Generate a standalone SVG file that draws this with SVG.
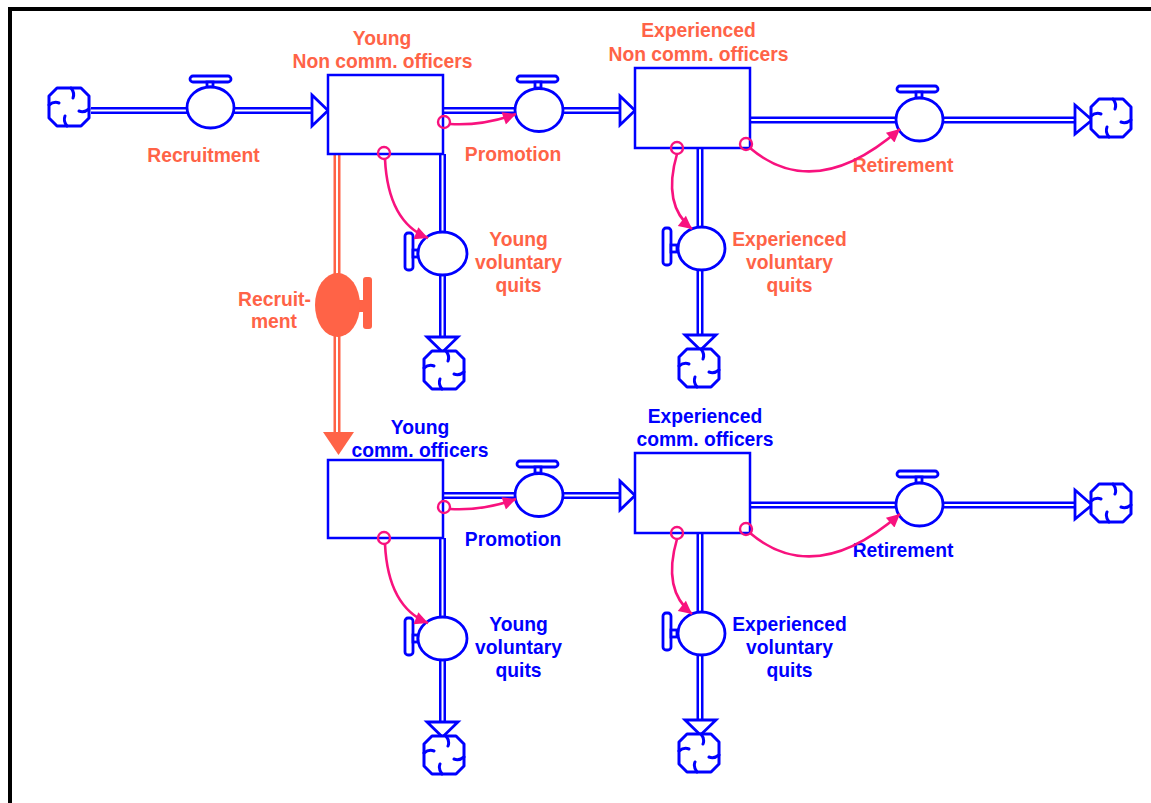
<svg xmlns="http://www.w3.org/2000/svg" width="1151" height="803" viewBox="0 0 1151 803">
<style>
.lbl{font-family:"Liberation Sans",Arial,sans-serif;font-weight:bold;font-size:19.3px;text-anchor:middle}
.or{fill:#FF6347}
.bl{fill:#0000FF}
.pipeO{fill:none;stroke:#0000FF;stroke-width:7}
.pipeI{fill:none;stroke:#FFFFFF;stroke-width:2}
.opipeO{fill:none;stroke:#FF6347;stroke-width:7}
.stock{fill:#FFFFFF;stroke:#0000FF;stroke-width:2.5}
.valve{fill:#FFFFFF;stroke:#0000FF;stroke-width:2.8}
.head{fill:#FFFFFF;stroke:#0000FF;stroke-width:2.8;stroke-linejoin:miter}
.link{fill:none;stroke:#F8127E;stroke-width:2.6}
.dot{fill:none;stroke:#F8127E;stroke-width:2.4}
</style>
<defs>
<marker id="ah" viewBox="0 0 10 10" refX="10" refY="5" markerWidth="21" markerHeight="13" markerUnits="userSpaceOnUse" orient="auto">
<path d="M0,0 L10,5 L0,10 Z" fill="#F8127E"/>
</marker>
<g id="cloud">
<path d="M-12,-19 H12 L20,-11 V11 L12,19 H-12 L-20,11 V-11 Z" fill="#FFFFFF" stroke="#0000FF" stroke-width="3" stroke-linejoin="round"/>
<path d="M-20,-2 Q-15,-6 -10,-4 M2,-19 Q6,-14 4,-9 M20,2 Q15,6 10,4 M-2,19 Q-6,14 -4,9" fill="none" stroke="#0000FF" stroke-width="3" stroke-linecap="round"/>
</g>
</defs>
<rect width="1151" height="803" fill="#FFFFFF"/>
<path d="M10,803 V9 H1151" fill="none" stroke="#000000" stroke-width="4"/>

<g id="connectors">
<path class="pipeO" d="M91,110.5 H313 M443,110.5 H621 M750,120 H1076 M442.5,154 V338 M700,148 V336 M443,495.5 H621 M750,505 H1076 M442.5,538 V723 M700,533 V721"/>
<path class="pipeI" d="M91,110.5 H313 M443,110.5 H621 M750,120 H1076 M442.5,154 V338 M700,148 V336 M443,495.5 H621 M750,505 H1076 M442.5,538 V723 M700,533 V721"/>
<path class="opipeO" d="M337,155 V433"/>
<path class="pipeI" d="M337,155 V433"/>
<path class="head" d="M312,95 L328,110.5 L312,126 Z"/>
<path class="head" d="M620,96 L635,110.5 L620,125 Z"/>
<path class="head" d="M1075,105 L1092,120 L1075,134 Z"/>
<path class="head" d="M427,337 L442.5,352 L458,337 Z"/>
<path class="head" d="M685,335 L700.5,350 L716,335 Z"/>
<path class="head" d="M620,481 L635,495.5 L620,510 Z"/>
<path class="head" d="M1075,490 L1092,505 L1075,519 Z"/>
<path class="head" d="M427,722 L442.5,737 L458,722 Z"/>
<path class="head" d="M685,720 L700.5,735 L716,720 Z"/>
<path d="M323,432 L354,432 L338.5,455 Z" fill="#FF6347"/>
</g>

<g id="cloud-src"><use href="#cloud" x="69" y="107"/></g>
<g id="cloud-ret1"><use href="#cloud" x="1111" y="118"/></g>
<g id="cloud-yq1"><use href="#cloud" x="444" y="370"/></g>
<g id="cloud-eq1"><use href="#cloud" x="699" y="368"/></g>
<g id="cloud-ret2"><use href="#cloud" x="1111" y="503"/></g>
<g id="cloud-yq2"><use href="#cloud" x="444" y="755"/></g>
<g id="cloud-eq2"><use href="#cloud" x="699" y="753"/></g>

<g id="stock-young-nco">
<rect class="stock" x="328" y="75" width="115" height="79"/>
<text class="lbl or" x="382" y="45">Young</text>
<text class="lbl or" x="382.5" y="68">Non comm. officers</text>
</g>
<g id="stock-exp-nco">
<rect class="stock" x="635" y="68" width="115" height="80"/>
<text class="lbl or" x="698.5" y="37">Experienced</text>
<text class="lbl or" x="698.5" y="61">Non comm. officers</text>
</g>
<g id="stock-young-co">
<rect class="stock" x="328" y="460" width="115" height="78"/>
<text class="lbl bl" x="420" y="434">Young</text>
<text class="lbl bl" x="420" y="457">comm. officers</text>
</g>
<g id="stock-exp-co">
<rect class="stock" x="635" y="453" width="115" height="80"/>
<text class="lbl bl" x="705" y="423">Experienced</text>
<text class="lbl bl" x="705" y="446">comm. officers</text>
</g>

<g id="valve-recruitment">
<rect class="valve" x="190" y="76" width="41" height="6" rx="3"/>
<rect class="valve" x="207" y="82" width="6" height="5"/>
<ellipse class="valve" cx="210.5" cy="107.5" rx="23.5" ry="20.5"/>
<text class="lbl or" x="203.5" y="162">Recruitment</text>
</g>
<g id="valve-promotion1">
<rect class="valve" x="517" y="76" width="41" height="6" rx="3"/>
<rect class="valve" x="535" y="82" width="6" height="6"/>
<ellipse class="valve" cx="539" cy="110" rx="24" ry="21.5"/>
<text class="lbl or" x="513" y="161">Promotion</text>
</g>
<g id="valve-retirement1">
<rect class="valve" x="897" y="86" width="41" height="6" rx="3"/>
<rect class="valve" x="916" y="92" width="6" height="6"/>
<ellipse class="valve" cx="919.5" cy="119.5" rx="23.5" ry="21.5"/>
<text class="lbl or" x="903" y="172">Retirement</text>
</g>
<g id="valve-yquits1">
<rect class="valve" x="405" y="233" width="8" height="37" rx="3"/>
<rect class="valve" x="413" y="250" width="5" height="7"/>
<ellipse class="valve" cx="442.5" cy="253.5" rx="24.5" ry="21.5"/>
<text class="lbl or" x="518.5" y="246">Young</text>
<text class="lbl or" x="518.5" y="269">voluntary</text>
<text class="lbl or" x="518.5" y="292">quits</text>
</g>
<g id="valve-equits1">
<rect class="valve" x="663" y="228" width="8" height="37" rx="3"/>
<rect class="valve" x="671" y="245" width="6" height="7"/>
<ellipse class="valve" cx="701.5" cy="248.5" rx="23.5" ry="21.5"/>
<text class="lbl or" x="789.5" y="246">Experienced</text>
<text class="lbl or" x="789.5" y="269">voluntary</text>
<text class="lbl or" x="789.5" y="292">quits</text>
</g>
<g id="valve-recruitment-co">
<rect x="363" y="277" width="9" height="52" rx="3" fill="#FF6347"/>
<rect x="357" y="300" width="7" height="12" fill="#FF6347"/>
<ellipse cx="337.5" cy="305" rx="22.5" ry="32" fill="#FF6347"/>
<text class="lbl or" x="274.5" y="306">Recruit-</text>
<text class="lbl or" x="274" y="328">ment</text>
</g>
<g id="valve-promotion2">
<rect class="valve" x="517" y="461" width="41" height="6" rx="3"/>
<rect class="valve" x="535" y="467" width="6" height="6"/>
<ellipse class="valve" cx="539" cy="495" rx="24" ry="21.5"/>
<text class="lbl bl" x="513" y="546">Promotion</text>
</g>
<g id="valve-retirement2">
<rect class="valve" x="897" y="471" width="41" height="6" rx="3"/>
<rect class="valve" x="916" y="477" width="6" height="6"/>
<ellipse class="valve" cx="919.5" cy="504.5" rx="23.5" ry="21.5"/>
<text class="lbl bl" x="903" y="557">Retirement</text>
</g>
<g id="valve-yquits2">
<rect class="valve" x="405" y="618" width="8" height="37" rx="3"/>
<rect class="valve" x="413" y="635" width="5" height="7"/>
<ellipse class="valve" cx="442.5" cy="638.5" rx="24.5" ry="21.5"/>
<text class="lbl bl" x="518.5" y="631">Young</text>
<text class="lbl bl" x="518.5" y="654">voluntary</text>
<text class="lbl bl" x="518.5" y="677">quits</text>
</g>
<g id="valve-equits2">
<rect class="valve" x="663" y="613" width="8" height="37" rx="3"/>
<rect class="valve" x="671" y="630" width="6" height="7"/>
<ellipse class="valve" cx="701.5" cy="633.5" rx="23.5" ry="21.5"/>
<text class="lbl bl" x="789.5" y="631">Experienced</text>
<text class="lbl bl" x="789.5" y="654">voluntary</text>
<text class="lbl bl" x="789.5" y="677">quits</text>
</g>

<g id="info-links">
<path class="link" marker-end="url(#ah)" d="M450,124 Q482,126 516,114"/>
<path class="link" marker-end="url(#ah)" d="M385,159 Q388,222 428,238"/>
<path class="link" marker-end="url(#ah)" d="M677,154 Q662,205 692,229"/>
<path class="link" marker-end="url(#ah)" d="M750,148 Q815,203 900,129"/>
<path class="link" marker-end="url(#ah)" d="M450,509 Q482,511 516,499"/>
<path class="link" marker-end="url(#ah)" d="M385,544 Q388,607 428,623"/>
<path class="link" marker-end="url(#ah)" d="M677,539 Q662,590 692,614"/>
<path class="link" marker-end="url(#ah)" d="M750,533 Q815,588 900,514"/>
<circle class="dot" cx="444" cy="122" r="6"/>
<circle class="dot" cx="384" cy="153" r="6"/>
<circle class="dot" cx="677" cy="148" r="6"/>
<circle class="dot" cx="746" cy="144" r="6"/>
<circle class="dot" cx="444" cy="507" r="6"/>
<circle class="dot" cx="384" cy="538" r="6"/>
<circle class="dot" cx="677" cy="533" r="6"/>
<circle class="dot" cx="746" cy="529" r="6"/>
</g>
</svg>
